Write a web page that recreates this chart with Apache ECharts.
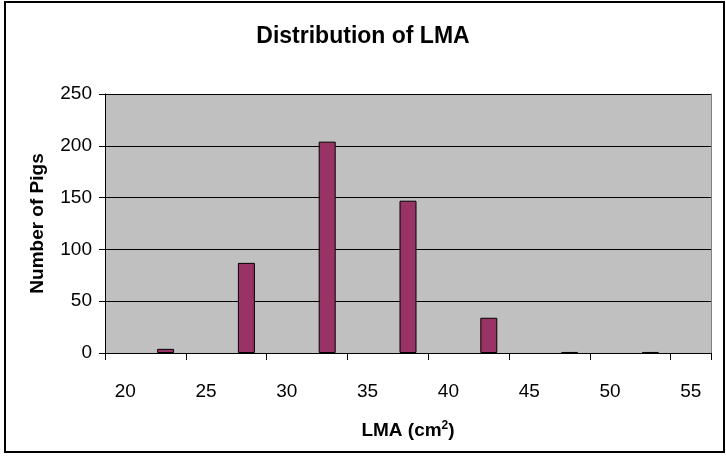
<!DOCTYPE html>
<html lang="en">
  <head>
    <meta charset="UTF-8" />
    <title>Distribution of LMA</title>
    <script src="https://cdn.jsdelivr.net/npm/echarts@6/dist/echarts.min.js"></script>
    <style>
      html, body { margin: 0; padding: 0; background: #fff; }
      #main { width: 726px; height: 458px; }
    </style>
  </head>
  <body>
    <div id="main"></div>

    <script>
      // bins of LMA (cm2); only every other one gets a label on the axis
      const lmaBins = ['20', '22.5', '25', '27.5', '30', '32.5', '35', '37.5',
        '40', '42.5', '45', '47.5', '50', '52.5', '55'];
      // empty bins have no bar at all
      const pigCounts = [null, 4, null, 87, null, 204, null, 147, null, 34, null, 1, null, 1, null];
      const yTicks = { min: 0, max: 250, step: 50 };

      const font = 'Liberation Sans, Arial, sans-serif';

      const options = {
        animation: false,
        backgroundColor: '#fff',
        title: {
          text: 'Distribution of LMA',
          left: 'center',
          top: 20,
          textStyle: { fontFamily: font, fontSize: 23, fontWeight: 'bold', color: '#000' },
        },
        graphic: [
          {
            type: 'rect',
            z: -10,
            shape: { x: 5, y: 2, width: 719, height: 450 },
            style: { fill: 'none', stroke: '#000', lineWidth: 2 },
            silent: true,
          },
        ],
        grid: {
          left: 105,
          top: 94,
          right: 15,
          bottom: 105,
        },
        xAxis: {
          type: 'category',
          zlevel: 1,
          data: lmaBins,
          name: 'LMA (cm{sup|2})',
          nameLocation: 'middle',
          nameGap: 67,
          nameTextStyle: {
            fontFamily: font,
            fontSize: 19,
            fontWeight: 'bold',
            color: '#000',
            rich: {
              sup: { fontFamily: font, fontSize: 12, fontWeight: 'bold', verticalAlign: 'top', padding: [0, 0, 9, 0] },
            },
          },
          axisLine: { show: true, lineStyle: { color: '#000', width: 1 } },
          axisTick: { show: true, interval: 1, length: 7, lineStyle: { color: '#000', width: 1 } },
          axisLabel: {
            interval: 1,
            margin: 29,
            fontFamily: font,
            fontSize: 19,
            color: '#000',
          },
        },
        yAxis: [
          {
            type: 'value',
            min: yTicks.min,
            max: yTicks.max,
            interval: yTicks.step,
            name: 'Number of Pigs',
            nameLocation: 'middle',
            nameGap: 58,
            nameTextStyle: { fontFamily: font, fontSize: 19, fontWeight: 'bold', color: '#000' },
            axisLine: { show: true, lineStyle: { color: '#000', width: 1 } },
            axisTick: { show: true, length: 6, lineStyle: { color: '#000' } },
            axisLabel: { margin: 13, fontFamily: font, fontSize: 19, color: '#000' },
            splitLine: { lineStyle: { color: '#000', width: 1 } },
            splitArea: { show: true, areaStyle: { color: ['#c0c0c0'] } },
          },
          {
            // right-hand frame of the plot area
            type: 'value',
            position: 'right',
            min: yTicks.min,
            max: yTicks.max,
            interval: yTicks.step,
            axisLine: { show: true, lineStyle: { color: '#808080', width: 1 } },
            axisTick: { show: false },
            axisLabel: { show: false },
            splitLine: { show: false },
          },
        ],
        series: [
          {
            type: 'bar',
            data: pigCounts,
            barWidth: 17,
            itemStyle: { color: '#993366', borderColor: '#000', borderWidth: 1 },
          },
        ],
      };

      const myChart = echarts.init(document.querySelector('#main'));
      myChart.setOption(options);
    </script>
  </body>
</html>
